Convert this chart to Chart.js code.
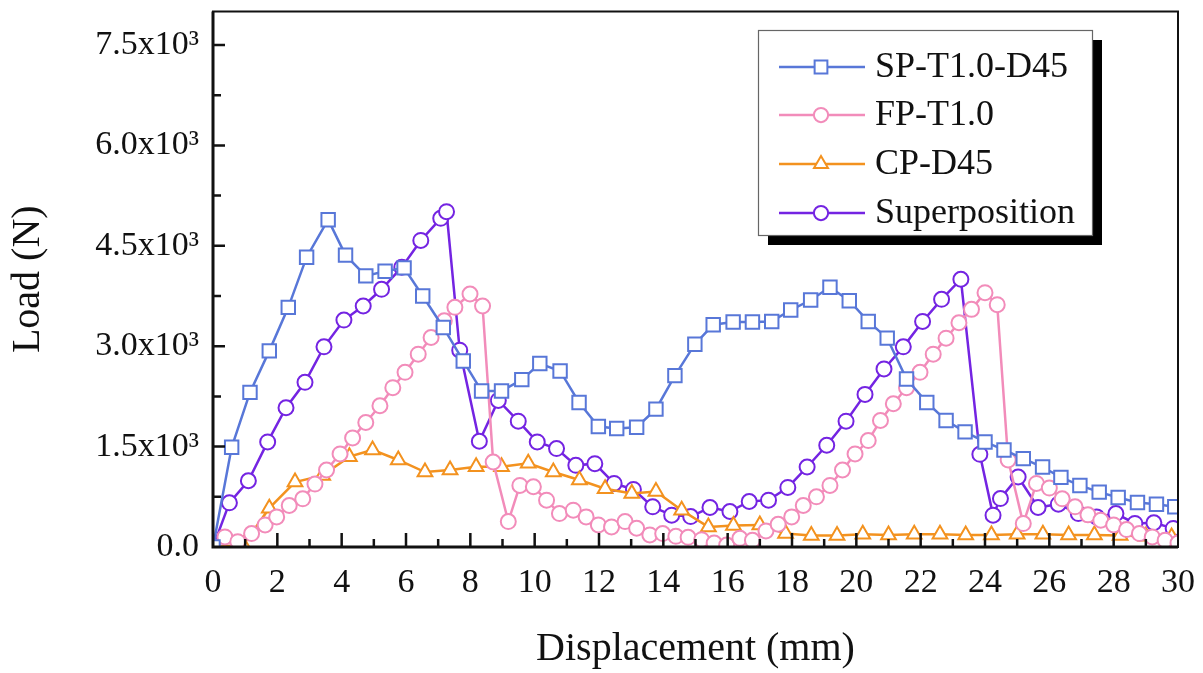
<!DOCTYPE html>
<html>
<head>
<meta charset="utf-8">
<script src="https://cdn.jsdelivr.net/npm/chart.js@4/dist/chart.umd.min.js"></script>
<style>
html,body{margin:0;padding:0;background:#fff;}
#wrap{width:1203px;height:673px;}
</style>
</head>
<body>
<div id="wrap"><canvas id="c" width="1203" height="673"></canvas></div>
<script>
// ---- data (displacement mm, load N) ----
const spX = [0,0.58,1.15,1.75,2.34,2.91,3.58,4.12,4.75,5.35,5.94,6.52,7.16,7.78,8.35,8.97,9.6,10.16,10.79,11.38,11.98,12.55,13.17,13.77,14.36,14.98,15.55,16.17,16.77,17.37,17.96,18.58,19.18,19.78,20.37,20.96,21.56,22.19,22.79,23.38,24.0,24.59,25.19,25.79,26.36,26.95,27.55,28.14,28.74,29.33,29.9];
const spY = [0,1490,2310,2930,3580,4330,4890,4360,4050,4120,4170,3750,3280,2780,2330,2330,2500,2740,2630,2160,1800,1770,1790,2060,2560,3030,3320,3360,3360,3370,3540,3690,3880,3680,3370,3120,2510,2160,1890,1720,1570,1450,1320,1195,1040,920,820,740,665,640,600];

const fpX = [0,0.37,0.77,1.2,1.62,1.98,2.37,2.79,3.17,3.53,3.95,4.34,4.75,5.19,5.59,5.97,6.38,6.78,7.19,7.52,7.99,8.38,8.71,9.18,9.54,9.96,10.37,10.77,11.2,11.6,11.98,12.39,12.81,13.17,13.58,13.98,14.39,14.77,15.19,15.58,15.97,16.38,16.77,17.19,17.57,17.99,18.35,18.76,19.18,19.57,19.96,20.37,20.75,21.15,21.56,21.98,22.39,22.79,23.19,23.58,24.0,24.38,24.72,25.19,25.6,26.0,26.4,26.8,27.2,27.6,28.0,28.4,28.8,29.2,29.6,30.0];
const fpY = [0,150,80,200,330,450,620,720,940,1150,1390,1630,1860,2110,2380,2610,2880,3130,3380,3580,3780,3600,1270,380,920,900,700,500,550,450,330,300,380,280,180,200,160,145,110,60,30,130,100,240,340,450,620,750,920,1150,1390,1590,1890,2140,2380,2610,2880,3120,3350,3550,3800,3620,1300,350,950,880,720,600,480,400,330,260,200,150,100,60];

const cpX = [0,0.94,1.75,2.55,3.41,4.24,4.96,5.76,6.59,7.37,8.18,8.97,9.8,10.58,11.39,12.19,13.02,13.77,14.57,15.4,16.18,17.0,17.8,18.6,19.4,20.2,21.0,21.8,22.6,23.4,24.2,25.0,25.8,26.6,27.4,28.2,29.0,29.8];
const cpY = [0,30,580,970,1070,1350,1450,1300,1120,1150,1200,1200,1250,1120,1000,870,800,830,550,300,320,330,200,170,170,190,180,190,190,180,180,190,190,180,180,170,160,150];

const suX = [0,0.51,1.1,1.7,2.27,2.86,3.45,4.07,4.67,5.24,5.87,6.46,7.08,7.26,7.67,8.28,8.87,9.49,10.08,10.68,11.28,11.87,12.47,13.07,13.67,14.26,14.85,15.45,16.07,16.67,17.27,17.87,18.47,19.08,19.68,20.27,20.86,21.46,22.06,22.65,23.25,23.84,24.25,24.48,25.03,25.65,26.28,26.9,27.47,28.07,28.66,29.25,29.85];
const suY = [0,660,990,1570,2080,2460,2990,3390,3600,3850,4180,4580,4910,5010,2940,1580,2190,1880,1570,1470,1220,1245,950,860,600,476,455,590,530,680,700,890,1195,1520,1880,2280,2660,2990,3370,3700,4000,1384,476,724,1046,590,640,500,450,500,352,362,278];

const seriesNames = ["SP-T1.0-D45","FP-T1.0","CP-D45","Superposition"];
const yTickValues = [0,1500,3000,4500,6000,7500];
const xTickStep = 2;
const yTickStep = 1500;

function pts(xs, ys){ return xs.map((x,i)=>({x:x,y:ys[i]})); }

const FONT = "'Liberation Serif','Times New Roman',serif";
const colors = ["#5877d8","#f28cba","#f3921f","#7424e2"];
const styles = ["rect","circle","triangle","circle"];
const radii = [9.5,7.5,8.5,7.5];

const datasets = [pts(spX,spY),pts(fpX,fpY),pts(cpX,cpY),pts(suX,suY)].map((d,i)=>({
  label: seriesNames[i],
  data: d,
  showLine: true,
  borderColor: colors[i],
  backgroundColor: "#ffffff",
  borderWidth: 2.5,
  pointStyle: styles[i],
  pointRadius: radii[i],
  pointBorderWidth: 2,
  pointBorderColor: colors[i],
  pointBackgroundColor: "#ffffff",
  tension: 0,
  fill: false
}));

const framePlugin = {
  id: 'frame',
  afterDatasetsDraw(chart){
    const ctx = chart.ctx, a = chart.chartArea;
    const xs = chart.scales.x, ys = chart.scales.y;
    ctx.save();
    ctx.strokeStyle = "#111";
    ctx.lineWidth = 2;
    ctx.strokeRect(a.left, a.top, a.right-a.left, a.bottom-a.top);
    ctx.lineWidth = 3;
    ctx.beginPath();
    ctx.moveTo(a.left, a.top); ctx.lineTo(a.left, a.bottom); ctx.lineTo(a.right, a.bottom);
    ctx.stroke();
    ctx.lineWidth = 2.5;
    ctx.beginPath();
    for (let v = 1; v < 30; v++){
      const px = xs.getPixelForValue(v);
      const len = (v % xTickStep === 0) ? 14 : 8;
      ctx.moveTo(px, a.bottom); ctx.lineTo(px, a.bottom - len);
    }
    for (let v = 750; v < 8000; v += 750){
      const py = ys.getPixelForValue(v);
      const len = (v % yTickStep === 0) ? 12 : 8;
      ctx.moveTo(a.left, py); ctx.lineTo(a.left + len, py);
    }
    ctx.stroke();
    ctx.restore();
  },
  afterDraw(chart){
    const ctx = chart.ctx;
    const bx = 758, by = 30, bw = 334, bh = 205;
    ctx.save();
    ctx.fillStyle = "#000";
    ctx.fillRect(bx+10, by+10, bw, bh);
    ctx.fillStyle = "#fff";
    ctx.fillRect(bx, by, bw, bh);
    ctx.strokeStyle = "#666";
    ctx.lineWidth = 1.2;
    ctx.strokeRect(bx+0.5, by+0.5, bw, bh);
    const rows = [67,115,164,213];
    chart.data.datasets.forEach((ds,i)=>{
      const y = rows[i];
      ctx.strokeStyle = ds.borderColor;
      ctx.lineWidth = 2.5;
      ctx.beginPath(); ctx.moveTo(779,y); ctx.lineTo(865,y); ctx.stroke();
      ctx.fillStyle = "#fff";
      ctx.strokeStyle = ds.borderColor;
      ctx.lineWidth = 2;
      Chart.helpers.drawPoint(ctx, {pointStyle: ds.pointStyle, radius: ds.pointRadius*0.95, borderWidth: 2, rotation: 0}, 821, y);
      ctx.fillStyle = "#111";
      ctx.font = "36px " + FONT;
      ctx.textBaseline = "middle";
      ctx.textAlign = "left";
      ctx.fillText(ds.label, 875, y+1);
    });
    ctx.restore();
  }
};

new Chart(document.getElementById('c'), {
  type: 'scatter',
  data: { datasets: datasets },
  plugins: [framePlugin],
  options: {
    responsive: false,
    animation: false,
    devicePixelRatio: 1,
    layout: { padding: { left: 0, right: 25, top: 11, bottom: 0 } },
    plugins: { legend: { display: false }, tooltip: { enabled: false } },
    scales: {
      x: {
        type: 'linear', min: 0, max: 30,
        ticks: { stepSize: xTickStep, color: "#111", font: { family: FONT, size: 34 }, padding: 16, maxRotation: 0 },
        grid: { display: false, drawTicks: false },
        border: { display: false },
        title: { display: true, text: "Displacement (mm)", color: "#111", font: { family: FONT, size: 40 }, padding: { top: 0, bottom: 0 } },
        afterFit(s){ s.height = 126; s.paddingLeft = 0; s.paddingRight = 0; }
      },
      y: {
        type: 'linear', min: 0, max: 8000,
        ticks: { color: "#111", font: { family: FONT, size: 34 }, padding: 14,
          callback: v => v === 0 ? "0.0" : (v/1000).toFixed(1) + "x10\u00B3" },
        afterBuildTicks(s){ s.ticks = yTickValues.map(v => ({ value: v })); },
        grid: { display: false, drawTicks: false },
        border: { display: false },
        title: { display: true, text: "Load (N)", color: "#111", font: { family: FONT, size: 40 }, padding: { top: 4, bottom: 0 } },
        afterFit(s){ s.width = 213; s.paddingTop = 0; s.paddingBottom = 0; }
      }
    }
  }
});
</script>
</body>
</html>
